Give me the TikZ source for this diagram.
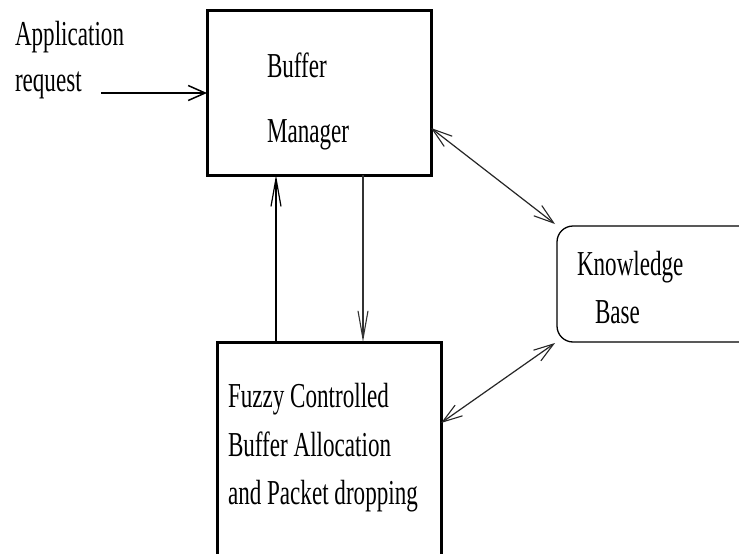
\documentclass[tikz,border=0pt]{standalone}
\usepackage{fontspec}
\setmainfont{Liberation Serif}[FakeStretch=0.66]
\usetikzlibrary{arrows.meta,calc}
\tikzset{
  boxthick/.style={draw=black, line width=3pt, inner sep=0pt, outer sep=0pt},
  kbbox/.style={draw=black, line width=1.3pt, rounded corners=16pt, inner sep=0pt, outer sep=0pt},
  txt/.style={anchor=base west, inner sep=0pt, outer sep=0pt, font=\fontsize{35}{40}\selectfont},
  thickarrow/.style={line width=2.5pt, -{Straight Barb[length=17pt,width=15pt,line width=1.5pt]}},
  uparrow/.style={line width=2.5pt, -{Straight Barb[length=28pt,width=10pt,line width=1.2pt]}},
  thinarrow/.style={draw=black!80, line width=1.2pt, -{Straight Barb[length=28pt,width=10pt,line width=1.1pt]}},
  diagarrow/.style={draw=black!85, line width=1.2pt, {Straight Barb[length=20pt,width=13pt,line width=1.1pt]}-{Straight Barb[length=20pt,width=13pt,line width=1.1pt]}}
}
\begin{document}
\begin{tikzpicture}[x=1pt,y=-1pt]
\useasboundingbox (0,0) rectangle (739,554);
\clip (0,0) rectangle (739,554);
\fill[white] (0,0) rectangle (739,554);
% boxes
\node[boxthick, minimum width=224pt, minimum height=165pt] (bm) at (319,92.5) {};
\node[boxthick, minimum width=224pt, minimum height=258pt] (fc) at (329,471) {};
\node[kbbox, minimum width=243pt, minimum height=116pt] (kb) at (678.5,284) {};
% texts
\node[txt] (t1) at (15,45) {Application};
\node[txt] (t2) at (15,91) {request};
\node[txt] (t3) at (267,77) {Buffer};
\node[txt] (t4) at (267,142) {Manager};
\node[txt] (t5) at (577,275) {Knowledge};
\node[txt] (t6) at (595,323) {Base};
\node[txt] (t7) at (228,407) {Fuzzy Controlled};
\node[txt] (t8) at (228,456) {Buffer Allocation};
\node[txt] (t9) at (228,504) {and Packet dropping};
% helper coordinates
\coordinate (appstart) at (101,93);
\coordinate (ux) at (276,0);
\coordinate (dx) at (363,0);
\coordinate (d1y) at (0,128);
\coordinate (d2y) at (0,423);
% connectors
\draw[thickarrow] (appstart) -- (appstart -| bm.west);
\draw[uparrow] (fc.north -| ux) -- (bm.south -| ux);
\draw[thinarrow] (bm.south -| dx) -- (fc.north -| dx);
\draw[diagarrow] (bm.east |- d1y) -- ($(kb.north west)+(-2,-2)$);
\draw[diagarrow] ($(kb.south west)+(-2,1)$) -- (fc.east |- d2y);
\end{tikzpicture}
\end{document}
